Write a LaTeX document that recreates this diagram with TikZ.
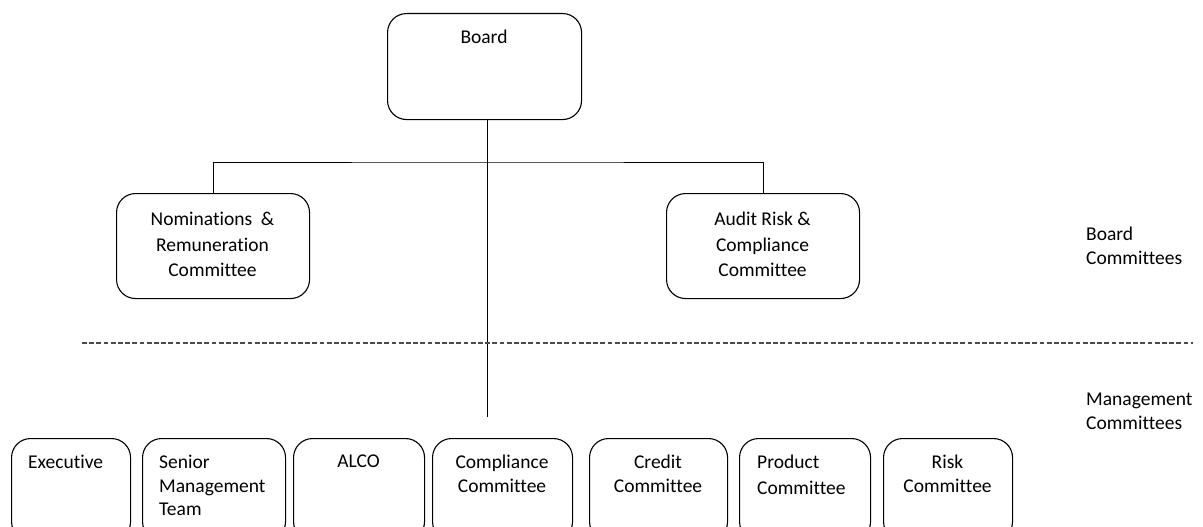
\documentclass[tikz,border=0pt]{standalone}
\usepackage{fontspec}
\setmainfont{Carlito}[Ligatures=NoCommon]
\begin{document}
\begin{tikzpicture}[x=1pt,y=-1pt,
  box/.style={draw, rounded corners=19pt, line width=1.1pt, inner sep=0pt, anchor=north west},
  lbl/.style={inner sep=0pt, font=\fontsize{19.5}{23.5}\selectfont},
  lblwide/.style={inner sep=0pt, font=\fontsize{19.5}{25.5}\selectfont},
  conn/.style={line width=1pt},
  sep/.style={line width=1.3pt, black!70, dash pattern=on 4.8pt off 2.4pt}]
\useasboundingbox (0,0) rectangle (1203,527);
\clip (0,0) rectangle (1203,527);
% boxes
\node[box, minimum width=194pt, minimum height=106pt] (board) at (387,13) {};
\node[box, minimum width=193pt, minimum height=105pt] (nom) at (116,193) {};
\node[box, minimum width=193pt, minimum height=105pt] (arc) at (666,193) {};
\node[box, minimum width=119pt, minimum height=102pt] (exec) at (11,438) {};
\node[box, minimum width=143pt, minimum height=102pt] (smt) at (142,438) {};
\node[box, minimum width=131pt, minimum height=102pt] (alco) at (293,438) {};
\node[box, minimum width=140pt, minimum height=102pt] (comp) at (432,438) {};
\node[box, minimum width=138pt, minimum height=102pt] (cred) at (589,438) {};
\node[box, minimum width=131pt, minimum height=102pt] (prod) at (739,438) {};
\node[box, minimum width=129pt, minimum height=102pt] (risk) at (883,438) {};
% texts
\node[lbl, anchor=north] (tboard) at (484,30) {Board};
\node[lblwide, anchor=north, align=center] (tnom) at (212.5,212) {Nominations \ \&\\Remuneration\\Committee};
\node[lblwide, anchor=north, align=center] (tarc) at (762.5,212) {Audit Risk \&\\Compliance\\Committee};
\node[lbl, anchor=north west] (texec) at (28,455) {Executive};
\node[lbl, anchor=north west, align=left] (tsmt) at (159,455) {Senior\\Management\\Team};
\node[lbl, anchor=north] (talco) at (358.5,455) {ALCO};
\node[lbl, anchor=north, align=center] (tcomp) at (502,455) {Compliance\\Committee};
\node[lbl, anchor=north, align=center] (tcred) at (658,455) {Credit\\Committee};
\node[lblwide, anchor=north west, align=left] (tprod) at (757,455) {Product\\Committee};
\node[lbl, anchor=north, align=center] (trisk) at (947.5,455) {Risk\\Committee};
\node[lbl, anchor=north west, align=left] (sbc) at (1086,227) {Board\\Committees};
\node[lbl, anchor=north west, align=left] (smc) at (1086,393) {Management\\Committees};
% connectors
\coordinate (trunkend) at (487,417);
\coordinate (j) at (487,162);
\draw[conn] (board.south -| trunkend) -- (trunkend);
\draw[conn] (nom.north) |- (j) -| (arc.north);
% separator
\coordinate (dl) at (82,343);
\coordinate (dr) at (1193,343);
\draw[sep] (dl) -- (dr);
\end{tikzpicture}
\end{document}
